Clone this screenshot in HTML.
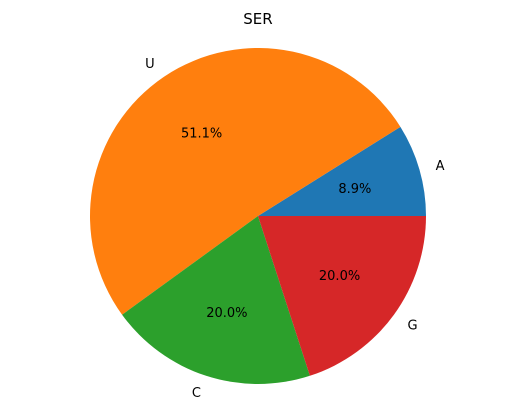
<!DOCTYPE html>
<html><head><meta charset="utf-8"><style>
html,body{margin:0;padding:0;background:#fff;}
svg{display:block;font-family:"DejaVu Sans","Liberation Sans",sans-serif;}
</style></head><body>
<svg id="chart" width="515" height="411">
<text x="258" y="24" text-anchor="middle" font-size="15" fill="#000">SER</text>
</svg>
<script>
const categories = ["A","U","C","G"];
const values = [8.9, 51.1, 20.0, 20.0];
const pctLabels = ["8.9%","51.1%","20.0%","20.0%"];
const colors = ["#1f77b4","#ff7f0e","#2ca02c","#d62728"];
const svg = document.getElementById('chart');
const ns = "http://www.w3.org/2000/svg";
const cx = 258, cy = 216, r = 168;
const total = values.reduce((a,b)=>a+b,0);
let start = 0;
function pt(a, rr){ return [cx + rr*Math.cos(a), cy - rr*Math.sin(a)]; }
values.forEach((v,i)=>{
  const sweep = v/total*2*Math.PI;
  const end = start + sweep;
  const [x1,y1] = pt(start,r), [x2,y2] = pt(end,r);
  const large = sweep > Math.PI ? 1 : 0;
  const p = document.createElementNS(ns,'path');
  p.setAttribute('d',`M${cx},${cy} L${x1},${y1} A${r},${r} 0 ${large} 0 ${x2},${y2} Z`);
  p.setAttribute('fill',colors[i]);
  
  
  svg.appendChild(p);
  const mid = start + sweep/2;
  const [lx,ly] = pt(mid, r*1.1);
  const t = document.createElementNS(ns,'text');
  t.setAttribute('x',lx); t.setAttribute('y',ly+5);
  t.setAttribute('font-size','13');
  t.setAttribute('text-anchor', Math.cos(mid) > 0 ? 'start' : 'end');
  t.textContent = categories[i];
  
  
  svg.appendChild(t);
  const [px,py] = pt(mid, r*0.6);
  const t2 = document.createElementNS(ns,'text');
  t2.setAttribute('x',px); t2.setAttribute('y',py+5);
  t2.setAttribute('font-size','13');
  t2.setAttribute('text-anchor','middle');
  t2.textContent = pctLabels[i];
  
  
  svg.appendChild(t2);
  start = end;
});
</script>
</body></html>
